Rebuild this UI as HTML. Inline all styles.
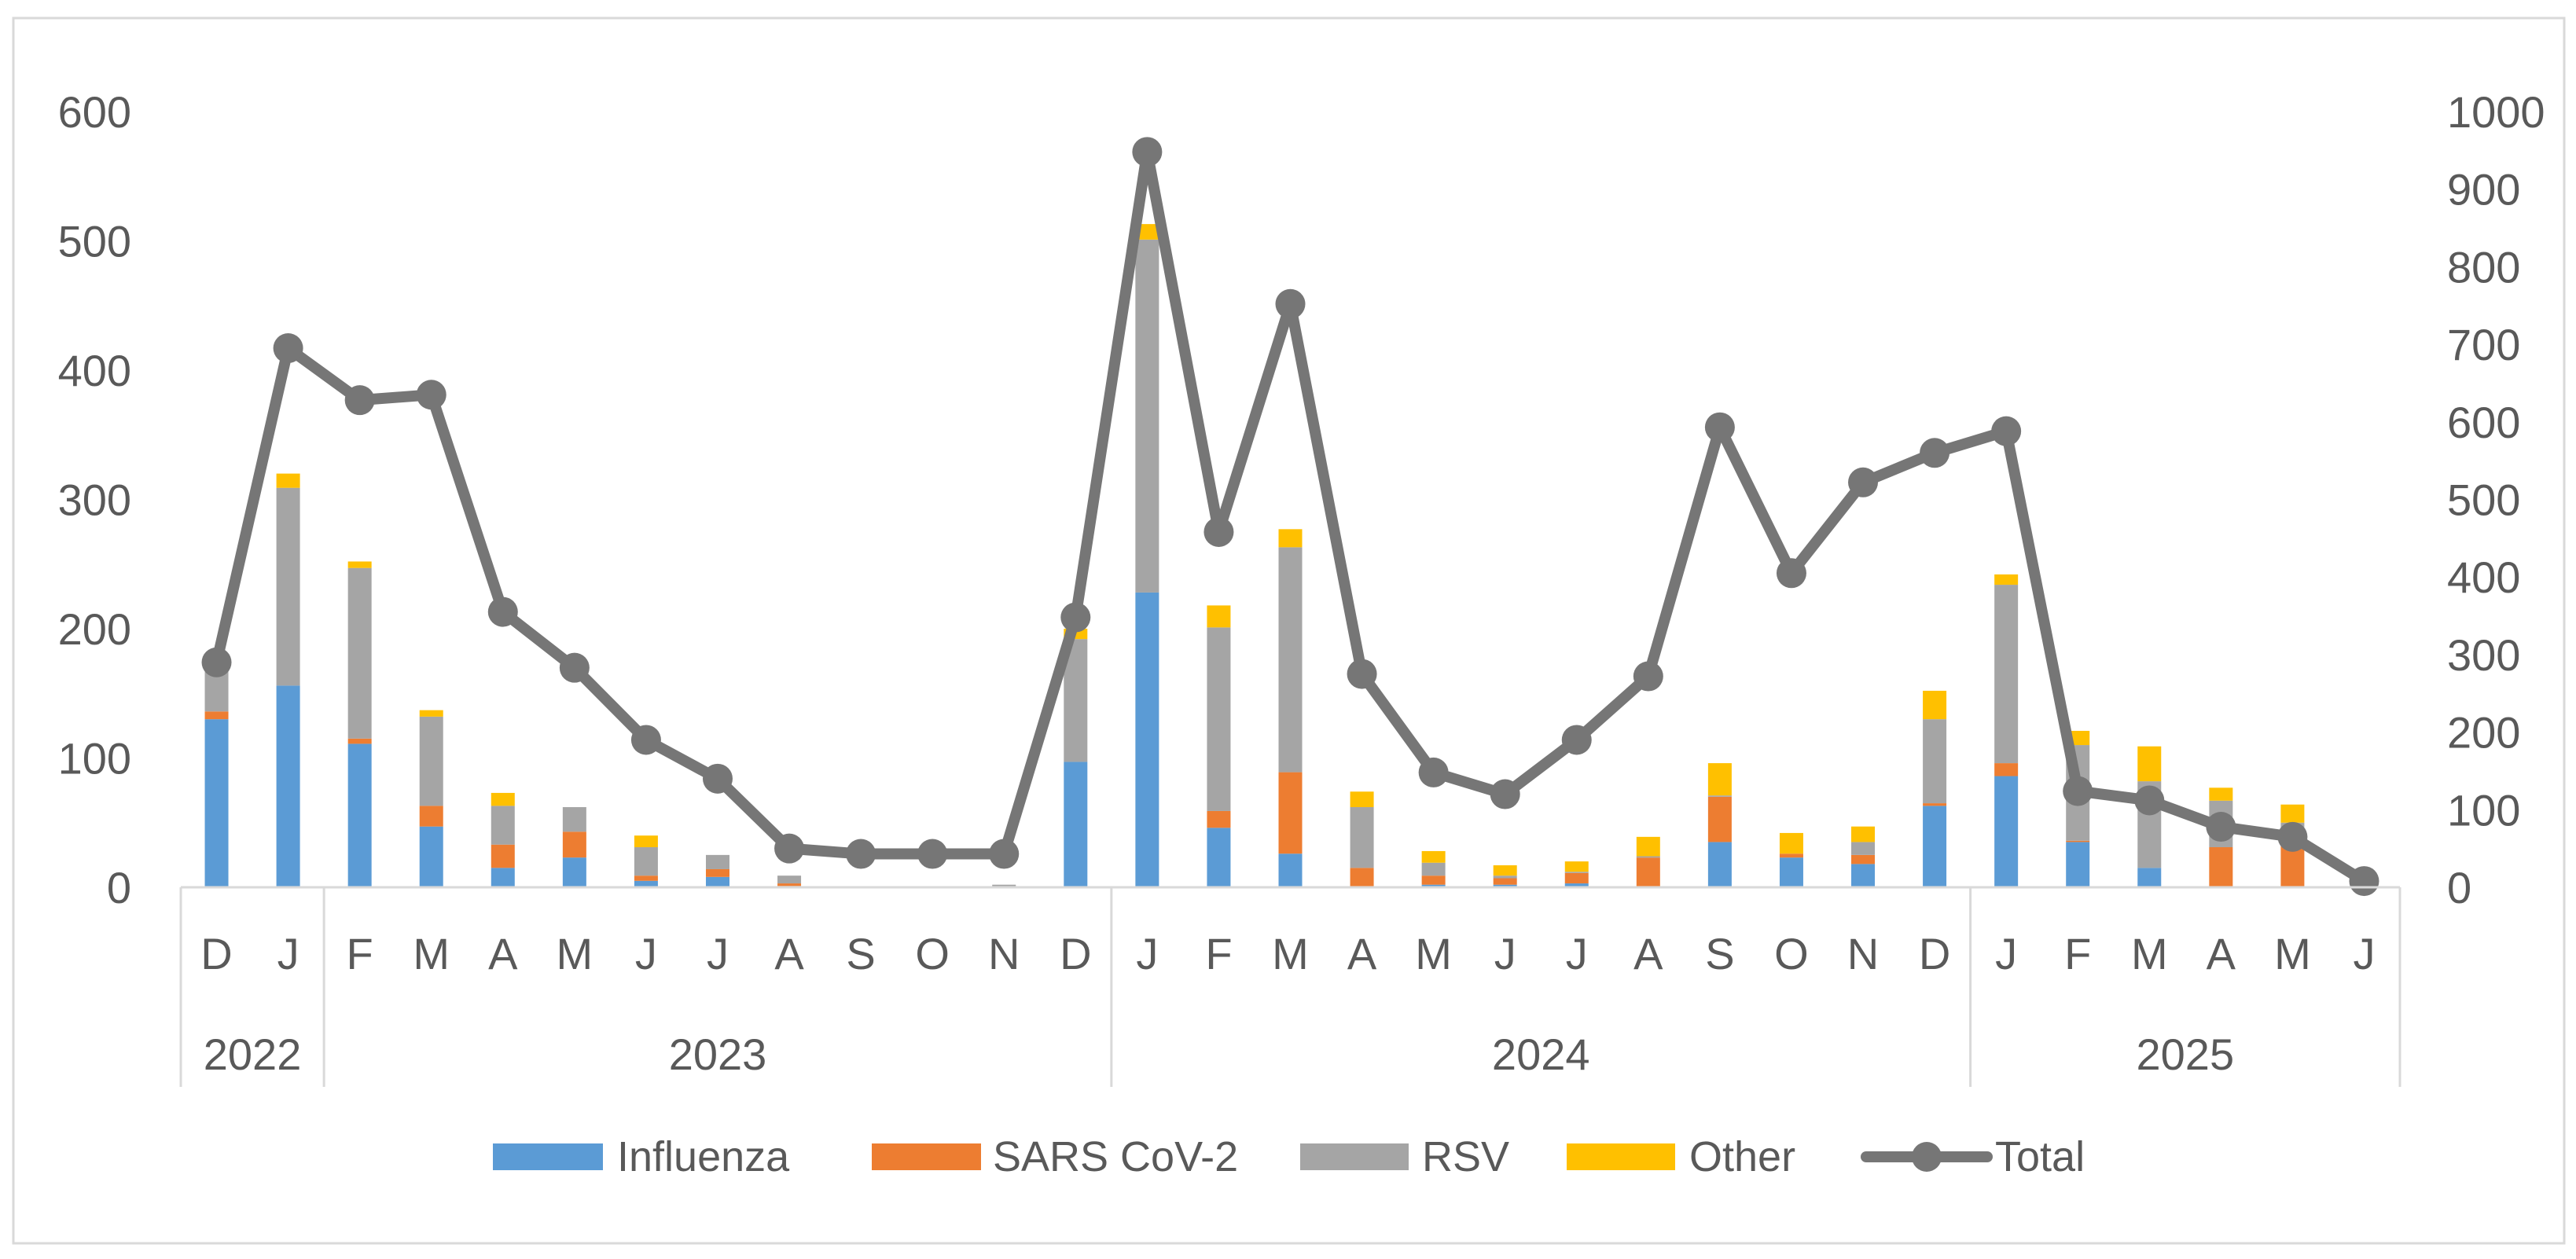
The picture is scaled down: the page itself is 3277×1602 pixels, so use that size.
<!DOCTYPE html>
<html><head><meta charset="utf-8"><style>
html,body{margin:0;padding:0;background:#fff;}
svg{display:block;font-family:"Liberation Sans",sans-serif;}
</style></head><body>
<svg id="chart" width="3277" height="1602" viewBox="0 0 3277 1602">
<rect x="17" y="23" width="3245" height="1559" fill="#fff" stroke="#d9d9d9" stroke-width="3"/>
<g id="grid"></g><g id="bars"></g><g id="line"></g><g id="axes"></g>
<g id="legend">
<rect x="627" y="1455" width="140" height="34" fill="#5B9BD5"/>
<text x="785" y="1490" font-size="54" fill="#595959">Influenza</text>
<rect x="1109" y="1455" width="139" height="34" fill="#ED7D31"/>
<text x="1263" y="1490" font-size="54" fill="#595959">SARS CoV-2</text>
<rect x="1654" y="1455" width="138" height="34" fill="#A5A5A5"/>
<text x="1809" y="1490" font-size="54" fill="#595959">RSV</text>
<rect x="1993" y="1455" width="138" height="34" fill="#FFC000"/>
<text x="2149" y="1490" font-size="54" fill="#595959">Other</text>
<line x1="2374" y1="1472" x2="2528" y2="1472" stroke="#767676" stroke-width="14" stroke-linecap="round"/>
<circle cx="2451" cy="1472" r="19" fill="#767676"/>
<text x="2538" y="1490" font-size="54" fill="#595959">Total</text>
</g>
</svg>
<script>
const months = ["D","J","F","M","A","M","J","J","A","S","O","N","D","J","F","M","A","M","J","J","A","S","O","N","D","J","F","M","A","M","J"];
const years = ["2022","2023","2024","2025"];
const yearSpans = [2,11,12,6];
const influenza = [130,156,111,47,15,23,5,8,1,0,0,0,97,228,46,26,0,2,2,3,0,35,23,18,63,86,35,15,0,0,0];
const sars = [6,0,4,16,18,20,4,6,2,0,0,0,0,0,13,63,15,7,5,8,23,35,3,7,2,10,1,0,31,38,0];
const rsv = [32,153,132,69,30,19,22,11,6,0,0,2,95,273,142,174,47,10,2,1,1,1,0,10,65,138,74,67,36,12,0];
const other = [0,11,5,5,10,0,9,0,0,0,0,0,8,12,17,14,12,9,8,8,15,25,16,12,22,8,11,27,10,14,0];
const total = [290,695,628,635,355,283,190,140,50,43,43,43,348,948,458,752,275,148,120,190,272,593,405,522,560,588,124,112,78,65,8];
const leftTicks = [0,100,200,300,400,500,600];
const rightTicks = [0,100,200,300,400,500,600,700,800,900,1000];

const NS="http://www.w3.org/2000/svg";
const X0=230,X1=3053,Y0=1129,YT=142;
const step=(X1-X0)/months.length;
const xc=i=>X0+step*(i+0.5);
const yL=v=>Y0-(v/600)*(Y0-YT);
const yR=v=>Y0-(v/1000)*(Y0-YT);
function mk(tag,attrs,parent){const e=document.createElementNS(NS,tag);for(const k in attrs)e.setAttribute(k,attrs[k]);parent.appendChild(e);return e;}
const gBars=document.getElementById('bars'),gLine=document.getElementById('line'),gAxes=document.getElementById('axes');

const series=[[influenza,"#5B9BD5","influenza"],[sars,"#ED7D31","sars"],[rsv,"#A5A5A5","rsv"],[other,"#FFC000","other"]];
months.forEach((m,i)=>{
  let base=0;
  series.forEach(([arr,col,nm])=>{
    const v=arr[i]; if(v<=0) return;
    const r=mk('rect',{x:xc(i)-15,y:yL(base+v),width:30,height:yL(base)-yL(base+v),fill:col},gBars);
    
    
    base+=v;
  });
});
const pts=total.map((v,i)=>xc(i)+","+yR(v)).join(" ");
const pl=mk('polyline',{points:pts,fill:"none",stroke:"#767676","stroke-width":14,"stroke-linejoin":"round"},gLine);


total.forEach((v,i)=>{
  const c=mk('circle',{cx:xc(i),cy:yR(v),r:19,fill:"#767676"},gLine);
  
  
});
// axis line
const ax=mk('line',{x1:X0,y1:Y0,x2:X1,y2:Y0,stroke:"#d9d9d9","stroke-width":3},gAxes);


leftTicks.forEach(v=>{
  const t=mk('text',{x:167,y:yL(v)+20,"text-anchor":"end","font-size":56,fill:"#595959"},gAxes);
  t.textContent=v;
  
  
});
rightTicks.forEach(v=>{
  const t=mk('text',{x:3113,y:yR(v)+20,"font-size":56,fill:"#595959"},gAxes);
  t.textContent=v;
  
  
});
months.forEach((m,i)=>{
  const t=mk('text',{x:xc(i),y:1233,"text-anchor":"middle","font-size":56,fill:"#595959"},gAxes);
  t.textContent=m;
  
  
});
let idx=0;
const sep0=mk('line',{x1:X0,y1:Y0,x2:X0,y2:1383,stroke:"#d9d9d9","stroke-width":3},gAxes);


years.forEach((y,k)=>{
  const a=idx,b=idx+yearSpans[k];
  const t=mk('text',{x:(X0+step*a+X0+step*b)/2,y:1361,"text-anchor":"middle","font-size":56,fill:"#595959"},gAxes);
  t.textContent=y;
  
  
  const s=mk('line',{x1:X0+step*b,y1:Y0,x2:X0+step*b,y2:1383,stroke:"#d9d9d9","stroke-width":3},gAxes);
  
  
  idx=b;
});
</script>
</body></html>
